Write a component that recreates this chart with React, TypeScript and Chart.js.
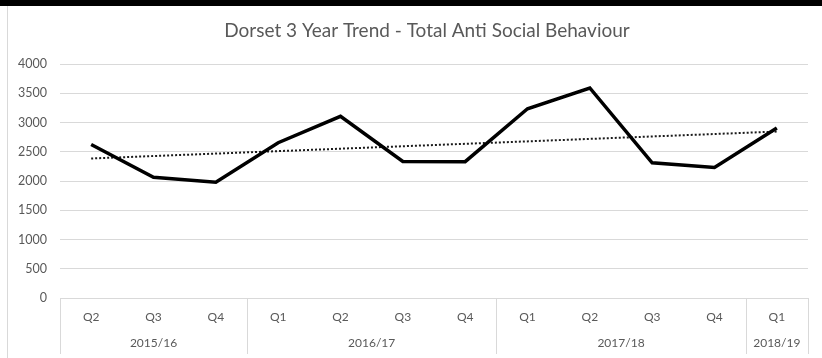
import React, { useEffect, useRef } from "react";
import { Chart, registerables } from "chart.js";

Chart.register(...registerables);

const TITLE = "Dorset 3 Year Trend - Total Anti Social Behaviour";
const quarters = ["Q2", "Q3", "Q4", "Q1", "Q2", "Q3", "Q4", "Q1", "Q2", "Q3", "Q4", "Q1"];
const years = ["2015/16", "2016/17", "2017/18", "2018/19"];
const yearSizes = [3, 4, 4, 1];
const asbValues = [2625, 2065, 1980, 2655, 3105, 2335, 2330, 3235, 3590, 2310, 2230, 2905];
const trendStart = 2385;
const trendEnd = 2845;
const yTicks = [0, 500, 1000, 1500, 2000, 2500, 3000, 3500, 4000];

const FONT = "Lato, 'Open Sans', sans-serif";
const TEXT = "#595959";
const GRID = "#d9d9d9";

export default function App() {
  const ref = useRef<HTMLCanvasElement>(null);
  useEffect(() => {
    const canvas = ref.current!;
    const trendData: (number | null)[] = quarters.map(() => null);
    trendData[0] = trendStart;
    trendData[trendData.length - 1] = trendEnd;

    const deco = {
      id: "deco",
      afterDraw(chart: any) {
        const ctx = chart.ctx;
        const xs = chart.scales.x;
        const area = chart.chartArea;
        ctx.save();
        // title
        ctx.fillStyle = TEXT;
        ctx.font = `19px ${FONT}`;
        ctx.textAlign = "center";
        ctx.textBaseline = "middle";
        ctx.fillText(TITLE, 427, 31);
        // separators and year labels
        ctx.strokeStyle = GRID;
        ctx.lineWidth = 1;
        let idx = 0;
        const bounds = [idx];
        yearSizes.forEach((s) => {
          idx += s;
          bounds.push(idx);
        });
        bounds.forEach((b) => {
          const x = Math.round(xs.getPixelForValue(b - 0.5)) + 0.5;
          ctx.beginPath();
          ctx.moveTo(x, area.bottom);
          ctx.lineTo(x, 354);
          ctx.stroke();
        });
        ctx.font = `12px ${FONT}`;
        ctx.fillStyle = TEXT;
        years.forEach((y, i) => {
          const a = xs.getPixelForValue(bounds[i] - 0.5);
          const b = xs.getPixelForValue(bounds[i + 1] - 0.5);
          ctx.fillText(y, (a + b) / 2, 343);
        });
        ctx.restore();
      },
    };

    const chart = new Chart(canvas, {
      type: "line",
      data: {
        labels: quarters,
        datasets: [
          {
            data: asbValues,
            borderColor: "#000000",
            borderWidth: 3.5,
            pointRadius: 0,
            tension: 0,
            fill: false,
            borderJoinStyle: "miter",
          },
          {
            data: trendData,
            borderColor: "#1a1a1a",
            borderWidth: 2,
            borderDash: [2, 2],
            pointRadius: 0,
            spanGaps: true,
            fill: false,
          },
        ],
      },
      options: {
        responsive: false,
        animation: false,
        devicePixelRatio: 1,
        layout: { padding: { left: 0, right: 14, top: 64, bottom: 0 } },
        plugins: {
          legend: { display: false },
          title: { display: false },
          tooltip: { enabled: false },
        },
        scales: {
          x: {
            type: "category",
            offset: true,
            grid: { display: false, drawTicks: false },
            border: { display: true, color: GRID },
            ticks: {
              color: TEXT,
              font: { family: FONT, size: 12 },
              padding: 12,
              maxRotation: 0,
              autoSkip: false,
            },
            afterFit(scale: any) {
              scale.height = 60;
            },
          },
          y: {
            min: 0,
            max: 4000,
            afterBuildTicks(scale: any) {
              scale.ticks = yTicks.map((v) => ({ value: v }));
            },
            grid: { color: GRID, drawTicks: false },
            border: { display: false },
            ticks: {
              color: TEXT,
              font: { family: FONT, size: 12.5 },
              padding: 13,
              callback: (v: any) => String(v),
            },
            afterFit(scale: any) {
              scale.width = 60;
            },
          },
        },
      },
      plugins: [deco],
    });
    return () => chart.destroy();
  }, []);

  return (
    <div style={{ position: "fixed", left: 0, top: 0, width: 822, height: 358, background: "#fff" }}>
      <canvas ref={ref} width={822} height={358} style={{ position: "absolute", left: 0, top: 0 }} />
      <div style={{ position: "absolute", left: 0, top: 0, width: 822, height: 6, background: "#000" }} />
      <div style={{ position: "absolute", left: 7, top: 6, width: 1, height: 352, background: GRID }} />
    </div>
  );
}
